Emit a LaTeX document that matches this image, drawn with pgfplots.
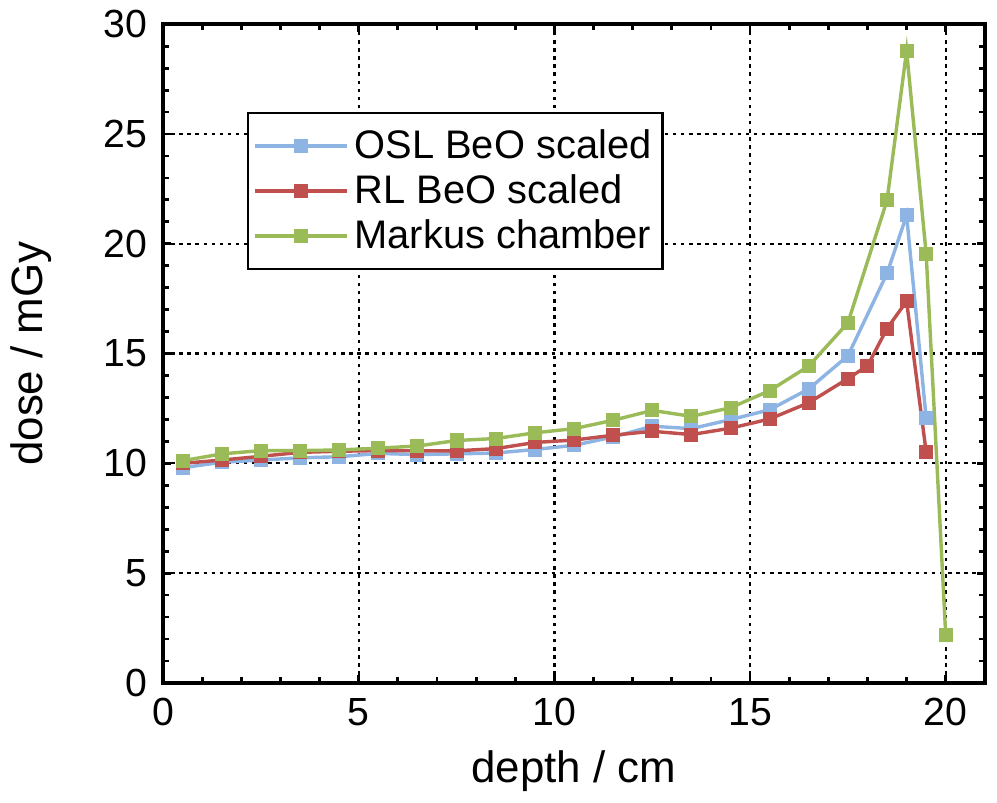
\documentclass[border=0pt]{standalone}
\usepackage{pgfplots}
\pgfplotsset{compat=1.18}
\usepackage{fontspec}
\setmainfont{Liberation Sans}
\definecolor{oslblue}{RGB}{141,180,226}
\definecolor{rlred}{RGB}{192,80,77}
\definecolor{markgreen}{RGB}{155,187,89}
\begin{document}
\begin{tikzpicture}
\begin{axis}[
    width=264pt, height=211.6pt, scale only axis,
    xmin=0, xmax=21, ymin=0, ymax=30,
    xtick={0,5,...,20}, ytick={0,5,...,30},
    minor x tick num=4, minor y tick num=4,
    tick align=inside,
    major tick length=2.6pt, minor tick length=1.8pt,
    every tick/.style={black, line width=0.9pt},
    axis line style={line width=1.3pt},
    grid=major,
    major grid style={black, line width=0.7pt, dash pattern=on 1.1pt off 1.5pt},
    xlabel={depth / cm}, ylabel={dose / mGy},
    every axis x label/.style={at={(rel axis cs:0.5,0)}, anchor=center, yshift=-28.5pt},
    every axis y label/.style={at={(rel axis cs:0,0.5)}, xshift=-42.5pt, rotate=90, anchor=center},
    label style={font=\fontsize{14.1}{16}\selectfont},
    ticklabel style={font=\fontsize{12.6}{14}\selectfont},
    xticklabel style={yshift=-1.5pt},
    yticklabel style={xshift=-1.5pt},
    /pgf/number format/assume math mode=true,
    legend style={at={(0.102,0.867)}, anchor=north west, draw=black, line width=0.8pt,
        font=\fontsize{12.8}{14}\selectfont, row sep=-0.3pt, inner xsep=1.5pt, inner ysep=3.2pt},
    legend cell align=left,
    legend image code/.code={\draw[mark repeat=2, mark phase=2]
        plot coordinates {(0cm,0cm) (0.52cm,0cm) (1.04cm,0cm)};},
    every axis plot/.append style={line width=1.1pt, mark=square*, mark size=1.7pt},
]
\addplot[oslblue, mark options={fill=oslblue, draw=oslblue}] coordinates {
 (0.5,9.8) (1.5,10.05) (2.5,10.15) (3.5,10.25) (4.5,10.3) (5.5,10.45) (6.5,10.4)
 (7.5,10.43) (8.5,10.47) (9.5,10.63) (10.5,10.82) (11.5,11.2) (12.5,11.69) (13.5,11.58)
 (14.5,11.99) (15.5,12.44) (16.5,13.39) (17.5,14.9) (18.5,18.65) (19,21.3) (19.5,12.06)};
\addplot[rlred, mark options={fill=rlred, draw=rlred}] coordinates {
 (0.5,10.0) (1.5,10.15) (2.5,10.32) (3.5,10.5) (4.5,10.55) (5.5,10.58) (6.5,10.57)
 (7.5,10.57) (8.5,10.67) (9.5,10.95) (10.5,11.06) (11.5,11.28) (12.5,11.46) (13.5,11.31)
 (14.5,11.6) (15.5,12.02) (16.5,12.76) (17.5,13.86) (18,14.44) (18.5,16.14) (19,17.38) (19.5,10.51)};
\addplot[markgreen, mark options={fill=markgreen, draw=markgreen}] coordinates {
 (0.5,10.12) (1.5,10.43) (2.5,10.58) (3.5,10.58) (4.5,10.61) (5.5,10.69) (6.5,10.79)
 (7.5,11.04) (8.5,11.13) (9.5,11.39) (10.5,11.58) (11.5,11.96) (12.5,12.41) (13.5,12.14)
 (14.5,12.53) (15.5,13.31) (16.5,14.43) (17.5,16.4) (18.5,21.98) (19,28.79) (19.5,19.55) (20,2.17)};
\legend{OSL BeO scaled, RL BeO scaled, Markus chamber}
\end{axis}
\path (current axis.east) ++(3.9pt,0);
\end{tikzpicture}
\end{document}
